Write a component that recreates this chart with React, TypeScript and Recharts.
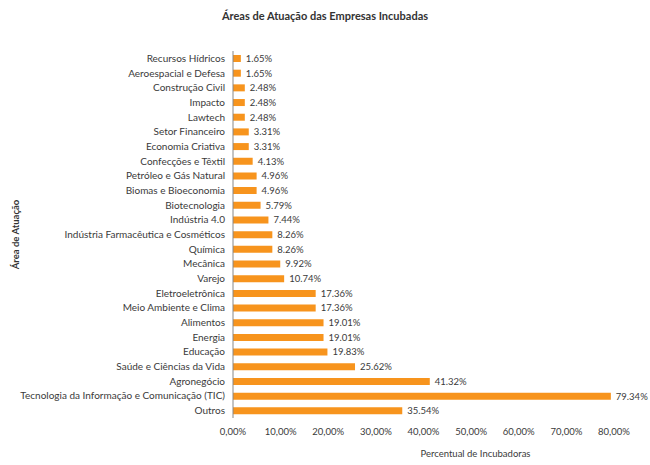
import React from "react";
import { BarChart, Bar, XAxis, YAxis, LabelList } from "recharts";

const areas = [
  "Recursos Hídricos",
  "Aeroespacial e Defesa",
  "Construção Civil",
  "Impacto",
  "Lawtech",
  "Setor Financeiro",
  "Economia Criativa",
  "Confecções e Têxtil",
  "Petróleo e Gás Natural",
  "Biomas e Bioeconomia",
  "Biotecnologia",
  "Indústria 4.0",
  "Indústria Farmacêutica e Cosméticos",
  "Química",
  "Mecânica",
  "Varejo",
  "Eletroeletrônica",
  "Meio Ambiente e Clima",
  "Alimentos",
  "Energia",
  "Educação",
  "Saúde e Ciências da Vida",
  "Agronegócio",
  "Tecnologia da Informação e Comunicação (TIC)",
  "Outros",
];

const percentuais = [
  1.65, 1.65, 2.48, 2.48, 2.48, 3.31, 3.31, 4.13, 4.96, 4.96, 5.79, 7.44, 8.26,
  8.26, 9.92, 10.74, 17.36, 17.36, 19.01, 19.01, 19.83, 25.62, 41.32, 79.34,
  35.54,
];

const xTicks = [0, 10, 20, 30, 40, 50, 60, 70, 80];

const data = areas.map((area, i) => ({ area, valor: percentuais[i] }));

const font = "Lato, 'Open Sans', sans-serif";
const textColor = "#3a3a3a";

// one-line tick so long names don't wrap
const AreaTick = (props: any) => {
  const { x, y, payload } = props;
  return (
    <text x={x} y={y} dy={3.5} textAnchor="end" fontSize={10} fill={textColor} fontFamily={font}>
      {payload.value}
    </text>
  );
};

const App = () => {
  return (
    <div style={{ position: "absolute", left: 0, top: 0, width: 650, height: 465, background: "#fff", fontFamily: font }}>
      <div
        style={{
          position: "absolute",
          top: 9,
          left: 0,
          width: 650,
          textAlign: "center",
          fontSize: 11,
          fontWeight: 700,
          color: "#333",
        }}
      >
        Áreas de Atuação das Empresas Incubadas
      </div>
      <BarChart
        width={650}
        height={465}
        data={data}
        layout="vertical"
        margin={{ top: 51, right: 36, bottom: 0, left: 0 }}
        barCategoryGap={4}
      >
        <XAxis
          type="number"
          domain={[0, 80]}
          ticks={xTicks}
          axisLine={false}
          tickLine={false}
          height={47}
          tick={{ fontSize: 9.5, fill: textColor, fontFamily: font, dy: 2 }}
          tickFormatter={(v: number) => v.toFixed(2).replace(".", ",") + "%"}
          label={{
            value: "Percentual de Incubadoras",
            position: "insideBottom",
            offset: 8,
            dx: 52,
            fontSize: 9.5,
            fill: textColor,
            fontFamily: font,
          }}
        />
        <YAxis
          type="category"
          dataKey="area"
          width={233}
          interval={0}
          tickLine={false}
          axisLine={{ stroke: "#888" }}
          tick={<AreaTick />}
          label={{
            value: "Área de Atuação",
            angle: -90,
            position: "insideLeft",
            offset: 16,
            fontSize: 9.5,
            fontWeight: 700,
            fill: "#333",
            fontFamily: font,
            style: { textAnchor: "middle" },
          }}
        />
        <Bar dataKey="valor" fill="#F7941D" barSize={7} isAnimationActive={false}>
          <LabelList
            dataKey="valor"
            position="right"
            offset={5}
            formatter={(v: number) => v.toFixed(2) + "%"}
            style={{ fontSize: 9.5, fill: textColor, fontFamily: font }}
          />
        </Bar>
      </BarChart>
    </div>
  );
};

export default App;
